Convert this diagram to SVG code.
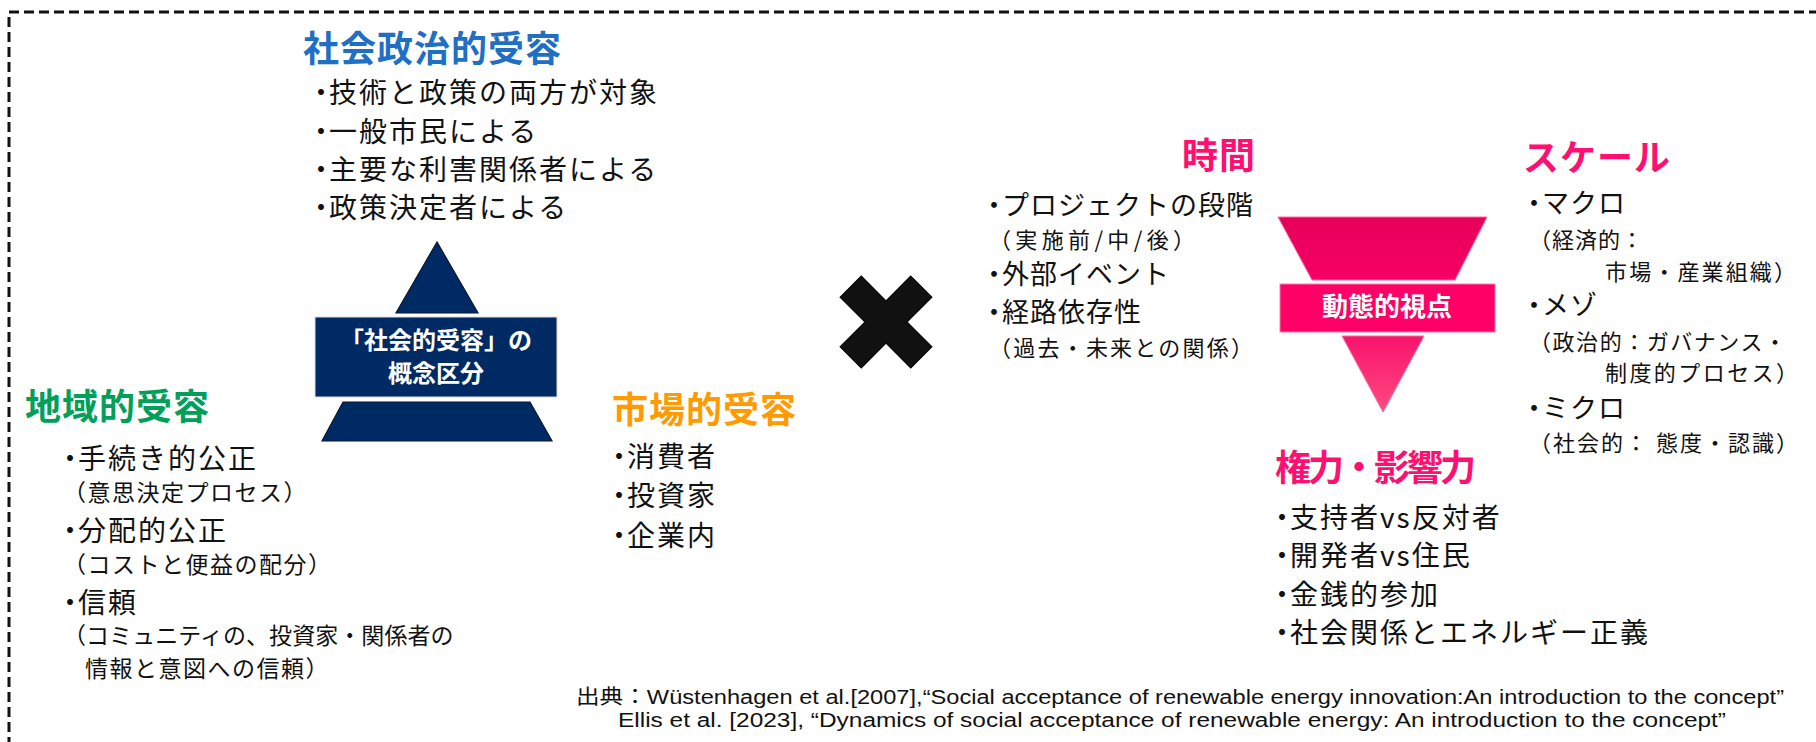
<svg xmlns="http://www.w3.org/2000/svg" width="1816" height="742" viewBox="0 0 1816 742">
<defs>
<style>
text{font-family:"Noto Sans CJK JP","Noto Sans CJK SC",sans-serif;fill:#111;}
.h{font-size:36px;font-weight:700;letter-spacing:1px;}
.b{font-size:28px;letter-spacing:2px;}
.s{font-size:23px;letter-spacing:1.5px;}
.b2{font-size:27px;letter-spacing:1px;}
.s2{font-size:22px;letter-spacing:1px;}
.w{fill:#fff;font-weight:700;font-size:24px;text-anchor:middle;}
.blue{fill:#1F6FC5;}
.green{fill:#00A05A;}
.orange{fill:#FF9A00;}
.pink{fill:#FF0F6F;}
.navy{fill:#002A64;stroke:#0B1530;stroke-width:1.2;}
.foot{font-family:"Liberation Sans","Noto Sans CJK JP",sans-serif;font-size:20px;fill:#111;}
</style>
<linearGradient id="pk1" x1="0" y1="0" x2="0" y2="1">
<stop offset="0" stop-color="#E6005A"/>
<stop offset="1" stop-color="#F70066"/>
</linearGradient>
<linearGradient id="pk2" x1="0" y1="0" x2="0" y2="1">
<stop offset="0" stop-color="#F8136C"/>
<stop offset="1" stop-color="#FF4A80"/>
</linearGradient>
</defs>

<rect id="frame" x="9" y="12" width="1900" height="800" fill="none" stroke="#111" stroke-width="3" stroke-dasharray="10 5"/>

<g id="sociopolitical">
<text class="h blue" x="303" y="62">社会政治的受容</text>
<text class="b" x="307" y="103" dx="0 -8">・技術と政策の両方が対象</text>
<text class="b" x="307" y="141.5" dx="0 -8">・一般市民による</text>
<text class="b" x="307" y="180" dx="0 -8">・主要な利害関係者による</text>
<text class="b" x="307" y="218" dx="0 -8">・政策決定者による</text>
</g>

<g id="pyramid">
<polygon class="navy" points="437,242 396,313 478,313"/>
<rect x="315" y="317" width="242" height="80" fill="#002A64" stroke="#D8DCE6" stroke-width="1"/>
<polygon class="navy" points="343,402 530,402 552,441 322,441"/>
<text class="w" x="436" y="349">「社会的受容」の</text>
<text class="w" x="436" y="382">概念区分</text>
</g>

<g id="local">
<text class="h green" x="25" y="420">地域的受容</text>
<text class="b" x="56" y="469" dx="0 -8">・手続き的公正</text>
<text class="s" x="63" y="501">（意思決定プロセス）</text>
<text class="b" x="56" y="541" dx="0 -8">・分配的公正</text>
<text class="s" x="63" y="573">（コストと便益の配分）</text>
<text class="b" x="56" y="613" dx="0 -8">・信頼</text>
<text class="s" x="63" y="644" textLength="392" lengthAdjust="spacing">（コミュニティの、投資家・関係者の</text>
<text class="s" x="85" y="677">情報と意図への信頼）</text>
</g>

<g id="market">
<text class="h orange" x="612" y="423">市場的受容</text>
<text class="b" x="605" y="467" dx="0 -8">・消費者</text>
<text class="b" x="605" y="506" dx="0 -8">・投資家</text>
<text class="b" x="605" y="546" dx="0 -8">・企業内</text>
</g>

<g id="cross">
<polygon points="-15,-50 15,-50 15,-15 50,-15 50,15 15,15 15,50 -15,50 -15,15 -50,15 -50,-15 -15,-15" fill="#111" stroke="#000" stroke-width="1" transform="translate(886 322) rotate(45)"/>
</g>

<g id="time">
<text class="h pink" x="1182" y="169">時間</text>
<text class="b2" x="980.5" y="215" dx="0 -6.5">・プロジェクトの段階</text>
<text class="s2" x="989" y="248" textLength="207" lengthAdjust="spacing">（実施前/中/後）</text>
<text class="b2" x="980.5" y="284" dx="0 -6.5">・外部イベント</text>
<text class="b2" x="980.5" y="322" dx="0 -6.5">・経路依存性</text>
<text class="s2" x="989" y="356" textLength="265" lengthAdjust="spacing">（過去・未来との関係）</text>
</g>

<g id="dynamic">
<polygon points="1278,217 1487,217 1455,280 1312,280" fill="url(#pk1)" stroke="#FF6A9A" stroke-width="1"/>
<rect x="1280" y="284" width="215" height="48" fill="#FF0066" stroke="#FF7AA8" stroke-width="1"/>
<polygon points="1342,336 1424,336 1383,412" fill="url(#pk2)" stroke="#FF6A9A" stroke-width="1"/>
<text class="w" x="1387" y="316" style="font-size:26px">動態的視点</text>
</g>

<g id="scale">
<text class="h pink" x="1523" y="171">スケール</text>
<text class="b2" x="1520.5" y="213" dx="0 -6.5">・マクロ</text>
<text class="s2" x="1529" y="248">（経済的：</text>
<text class="s2" x="1605" y="280" textLength="192" lengthAdjust="spacing">市場・産業組織）</text>
<text class="b2" x="1520.5" y="315" dx="0 -6.5">・メゾ</text>
<text class="s2" x="1529" y="350" textLength="258" lengthAdjust="spacing">（政治的：ガバナンス・</text>
<text class="s2" x="1605" y="381" textLength="194" lengthAdjust="spacing">制度的プロセス）</text>
<text class="b2" x="1520.5" y="418" dx="0 -6.5">・ミクロ</text>
<text class="s2" x="1529" y="451" textLength="270" lengthAdjust="spacing">（社会的： 態度・認識）</text>
</g>

<g id="power">
<text class="h pink" x="1275" y="481" style="letter-spacing:-3px">権力・影響力</text>
<text class="b" x="1268" y="528" dx="0 -8">・支持者vs反対者</text>
<text class="b" x="1268" y="566" dx="0 -8">・開発者vs住民</text>
<text class="b" x="1268" y="605" dx="0 -8">・金銭的参加</text>
<text class="b" x="1268" y="643" dx="0 -8">・社会関係とエネルギー正義</text>
</g>

<g id="source">
<text class="foot" x="576" y="704" textLength="1208" lengthAdjust="spacingAndGlyphs">出典：Wüstenhagen et al.[2007],“Social acceptance of renewable energy innovation:An introduction to the concept”</text>
<text class="foot" x="618" y="727" textLength="1108" lengthAdjust="spacingAndGlyphs">Ellis et al. [2023], “Dynamics of social acceptance of renewable energy: An introduction to the concept”</text>
</g>
</svg>
